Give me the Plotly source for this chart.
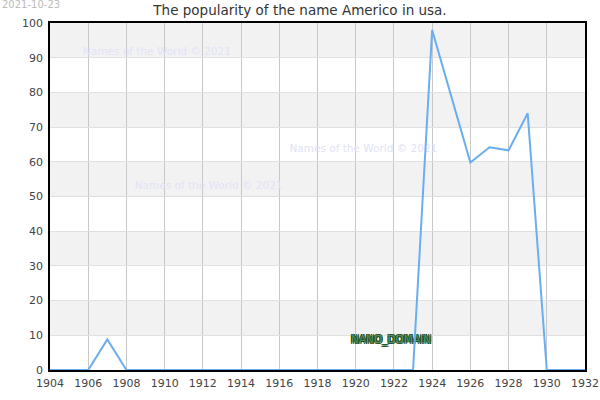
import plotly.graph_objects as go

years = list(range(1904, 1933))
popularity = [0, 0, 0, 8.8, 0, 0, 0, 0, 0, 0, 0, 0, 0, 0, 0, 0, 0, 0, 0, 0,
              98, 79, 59.8, 64.2, 63.3, 74, 0, 0, 0]
y_ticks = list(range(0, 101, 10))
x_ticks = list(range(1904, 1933, 2))

title = 'The popularity of the name Americo in usa.'
stamp = '2021-10-23'
watermark = 'Names of the World © 2021'
mark_x = [1909.6, 1920.4, 1912.3]
mark_y = [91.4, 63.7, 53]
label = 'NANO_DOMAIN'

font = 'DejaVu Sans'
outline = ('1px 1px 0 #1d4d24, -1px -1px 0 #1d4d24, '
           '1px -1px 0 #1d4d24, -1px 1px 0 #1d4d24')

fig = go.Figure()
# faint watermarks and the label sit under the line
fig.add_trace(go.Scatter(x=mark_x, y=mark_y, mode='text',
                         text=[watermark] * len(mark_x),
                         textfont=dict(family=font, size=10.5, color='#e2e2f6'),
                         hoverinfo='skip'))
fig.add_trace(go.Scatter(x=[1921.85], y=[8.4], mode='text', text=[label],
                         textfont=dict(family=font, size=10.5, color='#4f9058',
                                       shadow=outline),
                         hoverinfo='skip'))
fig.add_trace(go.Scatter(x=years, y=popularity, mode='lines',
                         line=dict(color='#6aaef0', width=2),
                         hoverinfo='x+y'))

# alternating bands
for lo in range(10, 100, 20):
    fig.add_shape(type='rect', xref='paper', yref='y', x0=0, x1=1,
                  y0=lo, y1=lo + 10, fillcolor='#f2f2f2', line_width=0,
                  layer='below')

fig.update_layout(
    width=600, height=400,
    margin=dict(l=50, r=15, t=23, b=30),
    paper_bgcolor='white', plot_bgcolor='white',
    showlegend=False,
    font=dict(family=font, size=12, color='#444'),
    title=dict(text=title, x=0.5, xanchor='center', y=0.975,
               yanchor='middle', font=dict(size=13.5, color='#333')),
    xaxis=dict(range=[1904, 1932], tickvals=x_ticks, showgrid=True,
               gridcolor='#c8c8c8', gridwidth=1, showline=True,
               linecolor='black', linewidth=1.5, mirror=True, zeroline=False,
               ticks='', tickfont=dict(size=11), automargin=False,
               ticklabelstandoff=2),
    yaxis=dict(range=[0, 100], tickvals=y_ticks, showgrid=True,
               gridcolor='#e0e0e0', gridwidth=1, showline=True,
               linecolor='black', linewidth=1.5, mirror=True, zeroline=False,
               ticks='', tickfont=dict(size=11), automargin=False,
               ticklabelstandoff=3),
)

fig.add_annotation(text=stamp, xref='paper', yref='paper', x=-0.0935,
                   y=1.052, xanchor='left', yanchor='middle', showarrow=False,
                   font=dict(size=10, color='#bbbbbb'))

fig.write_html('out.html', config={'displayModeBar': False},
               post_script="document.body.style.margin='0';")
